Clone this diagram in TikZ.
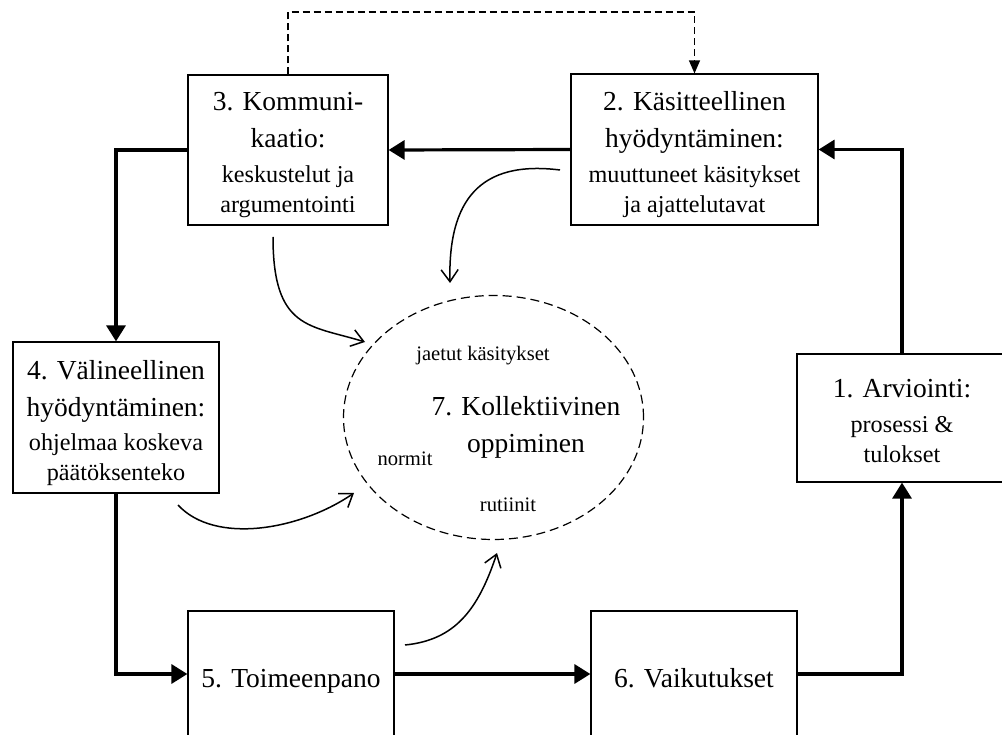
\documentclass[tikz,border=0pt]{standalone}
\usepackage{fontspec}
\setmainfont{Liberation Serif}
\usetikzlibrary{arrows.meta,shapes.geometric}
\newcommand{\bigsz}{\fontsize{27.5}{30}\selectfont}
\newcommand{\smallsz}{\fontsize{24.2}{30}\selectfont}
\newcommand{\labelsz}{\fontsize{20.6}{24}\selectfont}
% fixed first-line height, so the first baseline sits 20pt below the node top
\newcommand{\topstrut}{\rule{0pt}{20pt}}

\begin{document}
\begin{tikzpicture}[x=1pt,y=-1pt,
  stagebox/.style={draw, line width=1.2pt, inner sep=0pt},
  boxtext/.style={align=center, inner sep=0pt, anchor=north, font=\bigsz},
  flow/.style={line width=3.2pt, -{Triangle[length=16pt,width=19pt]}},
  dashlink/.style={line width=1.3pt, dash pattern=on 7pt off 4pt, -{Triangle[length=13pt,width=11pt]}},
  curvearrow/.style={line width=1.5pt, -{Straight Barb[length=12pt,width=17pt]}},
  ringline/.style={draw, line width=1.2pt, dash pattern=on 9pt off 5pt},
  inlabel/.style={font=\labelsz, inner sep=0pt, anchor=base}
]
\useasboundingbox (0,0) rectangle (1002,735);
\clip (0,0) rectangle (1002,735);

% stages of the cycle
\node[stagebox, minimum width=247pt, minimum height=151pt] (b2) at (694.5,149.5) {};
\node[stagebox, minimum width=200pt, minimum height=150pt] (b3) at (288,150) {};
\node[stagebox, minimum width=206pt, minimum height=151pt] (b4) at (116,417.5) {};
\node[stagebox, minimum width=210pt, minimum height=128pt] (b1) at (902,418) {};
\node[stagebox, minimum width=206pt, minimum height=126pt] (b5) at (291,674) {};
\node[stagebox, minimum width=206pt, minimum height=126pt] (b6) at (694,674) {};

\node[boxtext] (t2) at (694.5,90)
  {\topstrut 2. Käsitteellinen\\[7pt] hyödyntäminen:\\[5pt] \smallsz muuttuneet käsitykset\\ \smallsz ja ajattelutavat};
\node[boxtext] (t3) at (288,90)
  {\topstrut 3. Kommuni-\\[7pt] kaatio:\\[5pt] \smallsz keskustelut ja\\ \smallsz argumentointi};
\node[boxtext] (t4) at (116,359)
  {\topstrut 4. Välineellinen\\[7pt] hyödyntäminen:\\[4pt] \smallsz ohjelmaa koskeva\\ \smallsz päätöksenteko};
\node[boxtext] (t1) at (902,377)
  {\topstrut 1. Arviointi:\\[5pt] \smallsz prosessi \&\\ \smallsz tulokset};
\node[boxtext] (t5) at (291,667) {\topstrut 5. Toimeenpano};
\node[boxtext] (t6) at (694,667) {\topstrut 6. Vaikutukset};

% collective learning
\node[ellipse, ringline, minimum width=300pt, minimum height=244pt, inner sep=0pt] (e7) at (493.5,417.5) {};
\node[boxtext] (t7) at (526,395) {\topstrut 7. Kollektiivinen\\[7pt] oppiminen};
\node[inlabel] (lshared) at (483,360.5) {jaetut käsitykset};
\node[inlabel] (lnorms) at (405,465) {normit};
\node[inlabel] (lroutines) at (508,511.5) {rutiinit};

% main cycle
\draw[flow] (b2.west) -- (b3.east);
\draw[flow] (b3.west) -| (b4.north);
\draw[flow] (b4.south) |- (b5.west);
\draw[flow] (b5.east) -- (b6.west);
\draw[flow] (b6.east) -| (b1.south);
\draw[flow] (b1.north) |- (b2.east);

% feedback from communication to conceptual use
\coordinate (dtop) at (0,12);
\draw[dashlink] (b3.north) -- (b3.north |- dtop) -| (b2.north);

% contributions to collective learning
\coordinate (s3) at (273,237);
\coordinate (a3) at (365,342);
\coordinate (s2) at (560,170);
\coordinate (a2) at (450,283);
\coordinate (s4) at (178,505);
\coordinate (a4) at (354,493);
\coordinate (s5) at (405,645);
\coordinate (a5) at (497,553);
\draw[curvearrow] (s3) .. controls (273,330) and (310,325) .. (a3);
\draw[curvearrow] (s2) .. controls (480,160) and (448,200) .. (a2);
\draw[curvearrow] (s4) .. controls (215,545) and (300,530) .. (a4);
\draw[curvearrow] (s5) .. controls (455,640) and (478,610) .. (a5);
\end{tikzpicture}
\end{document}
